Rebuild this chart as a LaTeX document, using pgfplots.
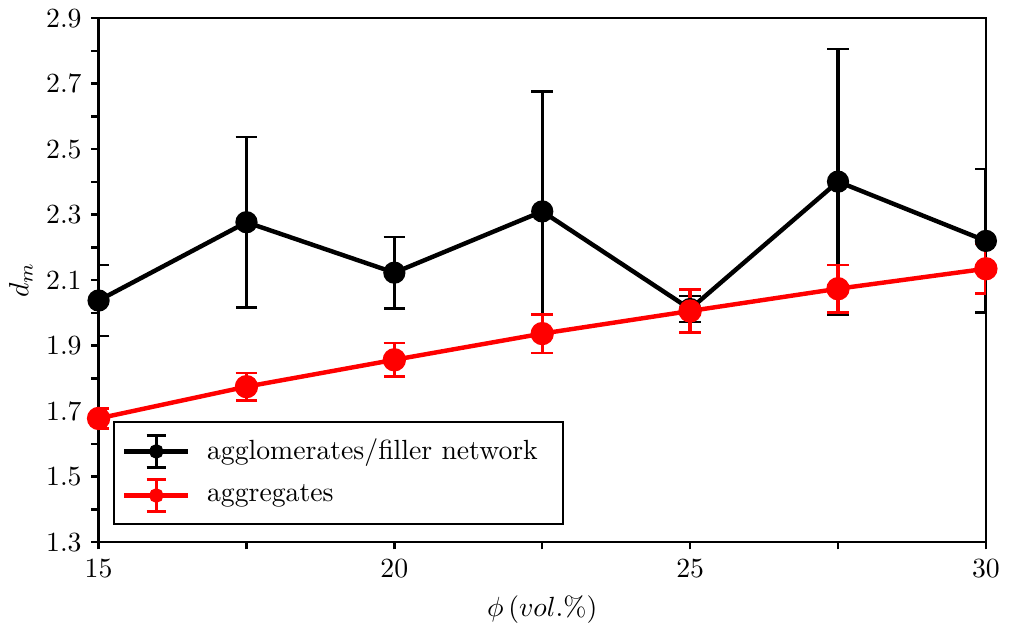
\documentclass[border=0pt]{standalone}
\usepackage{pgfplots}
\pgfplotsset{compat=1.18}
\begin{document}
\begin{tikzpicture}
\begin{axis}[
  scale only axis, width=320pt, height=189pt,
  xmin=15, xmax=30, ymin=1.3, ymax=2.9,
  xtick={15,20,25,30}, minor xtick={17.5,22.5,27.5},
  ytick={1.3,1.5,1.7,1.9,2.1,2.3,2.5,2.7,2.9},
  minor ytick={1.4,1.6,1.8,2.0,2.2,2.4,2.6,2.8},
  yticklabel style={/pgf/number format/.cd, fixed, fixed zerofill, precision=1},
  tick align=outside, xtick pos=bottom, ytick pos=left,
  major tick length=2.6pt, minor tick length=2.6pt,
  every tick/.style={black, line width=0.9pt},
  every minor tick/.style={black, line width=0.9pt},
  axis line style={line width=0.8pt},
  ylabel={$d_m$}, xlabel={$\phi\,(vol.\%)$},
  ylabel style={yshift=-2pt},
  legend cell align=left,
  legend style={at={(0.016,0.032)}, anchor=south west, draw=black, line width=0.8pt,
    inner xsep=3pt, inner ysep=4pt, row sep=3pt, font=\normalsize,
    nodes={inner xsep=6pt}},
]
\addplot[black, line width=1.6pt, mark=*, mark size=3.2pt,
  legend image code/.code={
  \draw[black, line width=1.6pt] (0pt,0pt) -- (23pt,0pt);
  \draw[black, line width=1.2pt] (11.5pt,-5.8pt) -- (11.5pt,5.8pt);
  \draw[black, line width=0.9pt] (8pt,-5.8pt) -- (15pt,-5.8pt) (8pt,5.8pt) -- (15pt,5.8pt);
  \fill[black] (11.5pt,0pt) circle (1.8pt);
  },
  error bars/.cd, y dir=both, y explicit,
  error bar style={line width=1.2pt, black},
  error mark options={rotate=90, mark size=3.9pt, line width=0.9pt, black},
  ] table[x=x, y=y, y error=e] {
x y e
15 2.038 0.109
17.5 2.277 0.260
20 2.123 0.109
22.5 2.310 0.366
25 2.012 0.040
27.5 2.401 0.405
30 2.220 0.219
};
\addlegendentry{agglomerates/filler network}
\addplot[red, line width=1.6pt, mark=*, mark size=3.4pt,
  legend image code/.code={
  \draw[red, line width=1.6pt] (0pt,0pt) -- (23pt,0pt);
  \draw[red, line width=1.2pt] (11.5pt,-5.8pt) -- (11.5pt,5.8pt);
  \draw[red, line width=0.9pt] (8pt,-5.8pt) -- (15pt,-5.8pt) (8pt,5.8pt) -- (15pt,5.8pt);
  \fill[red] (11.5pt,0pt) circle (1.8pt);
  },
  error bars/.cd, y dir=both, y explicit,
  error bar style={line width=1.2pt, red},
  error mark options={rotate=90, mark size=3.9pt, line width=0.9pt, red},
  ] table[x=x, y=y, y error=e] {
x y e
15 1.678 0.030
17.5 1.775 0.042
20 1.857 0.051
22.5 1.937 0.059
25 2.006 0.065
27.5 2.074 0.072
30 2.135 0.076
};
\addlegendentry{aggregates}
\end{axis}
\end{tikzpicture}
\end{document}
